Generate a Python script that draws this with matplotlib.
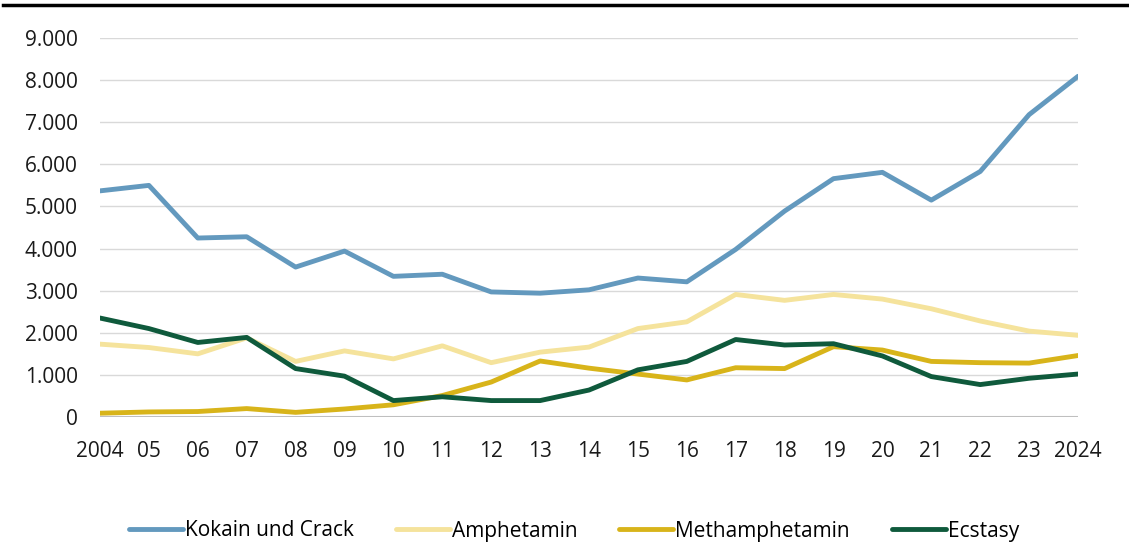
import matplotlib
matplotlib.use("Agg")
import matplotlib.pyplot as plt
from matplotlib.lines import Line2D
from matplotlib.ticker import FuncFormatter

plt.rcParams["font.family"] = ["Open Sans", "DejaVu Sans"]

years = list(range(2004, 2025))
year_labels = ["2004", "05", "06", "07", "08", "09", "10", "11", "12", "13",
               "14", "15", "16", "17", "18", "19", "20", "21", "22", "23", "2024"]

kokain = [5370, 5500, 4250, 4280, 3560, 3940, 3340, 3390, 2970, 2940,
          3020, 3300, 3210, 3980, 4890, 5660, 5810, 5150, 5830, 7180, 8090]
amphetamin = [1730, 1650, 1500, 1880, 1320, 1570, 1380, 1690, 1290, 1540,
              1660, 2100, 2260, 2910, 2770, 2910, 2800, 2570, 2280, 2040, 1940]
methamphetamin = [90, 120, 130, 200, 110, 190, 290, 510, 830, 1330,
                  1160, 1020, 880, 1170, 1150, 1670, 1590, 1320, 1290, 1280, 1460]
ecstasy = [2350, 2100, 1770, 1890, 1150, 970, 390, 480, 390, 390,
           640, 1120, 1320, 1840, 1710, 1740, 1450, 960, 770, 920, 1020]

series = [
    ("Kokain und Crack", kokain, "#6399be"),
    ("Amphetamin", amphetamin, "#f5e39c"),
    ("Methamphetamin", methamphetamin, "#d8b41a"),
    ("Ecstasy", ecstasy, "#0f5a3c"),
]

W, H = 1129, 543
fig = plt.figure(figsize=(W / 100, H / 100), dpi=100)
left, right, bottom, top = 100 / W, 1078 / W, 1 - 417 / H, 1 - 38 / H
ax = fig.add_axes([left, bottom, right - left, top - bottom])

for name, vals, color in series:
    ax.plot(years, vals, color=color, lw=3.5, label=name,
            solid_capstyle="round", solid_joinstyle="round")

ax.set_xlim(2004, 2024)
ax.set_ylim(0, 9000)
ax.set_yticks(range(0, 9001, 1000))
ax.yaxis.set_major_formatter(FuncFormatter(lambda v, p: f"{v:,.0f}".replace(",", ".")))
ax.set_xticks(years)
ax.set_xticklabels(year_labels)
ax.tick_params(axis="both", length=0, labelsize=15, colors="#1a1a1a")
ax.tick_params(axis="y", pad=16)
ax.tick_params(axis="x", pad=17)

ax.grid(axis="y", color="#d9d9d9", lw=1.0)
ax.axhline(0, color="#bfbfbf", lw=1.5, zorder=1)
ax.set_axisbelow(True)
for s in ax.spines.values():
    s.set_visible(False)

# black rule across the top
fig.add_artist(Line2D([0.003, 1.0], [1 - 5 / H, 1 - 5 / H],
                      transform=fig.transFigure, color="black", lw=2.5))

fig.legend(loc="center", bbox_to_anchor=(574 / W, 1 - 531 / H), ncol=4,
           frameon=False, fontsize=15, handlelength=2.6, handletextpad=0.1,
           columnspacing=2.0)

fig.savefig("out.png", dpi=100)
